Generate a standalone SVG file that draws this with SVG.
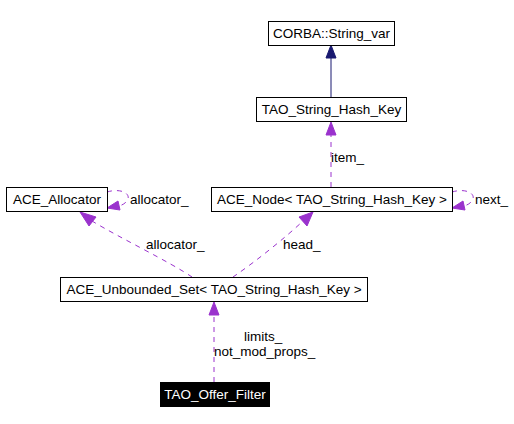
<svg xmlns="http://www.w3.org/2000/svg" width="514" height="424" viewBox="0 0 514 424">
<style>
.box{fill:#fff;stroke:#000;stroke-width:1}
.t{font-family:"Liberation Sans",Arial,sans-serif;font-size:13.5px;fill:#000}
.w{fill:#fff}
.e{fill:none;stroke:#9a32cd;stroke-width:1;stroke-dasharray:5,5}
.ah{fill:#9a32cd;stroke:#9a32cd}
</style>
<rect width="514" height="424" fill="#fff"/>
<g id="edges">
  <path d="M331,97 L331,57" fill="none" stroke="#191970"/>
  <polygon points="331,45 326,58 336,58" fill="#191970" stroke="#191970"/>
  <path class="e" d="M331,187 L331,135"/>
  <polygon class="ah" points="331,122 326,135 336,135"/>
  <path class="e" d="M107,192 C120,188 130,193 128,199 C126,204 120,206 118,206"/>
  <polygon class="ah" points="107,208 118,201 120,210"/>
  <path class="e" d="M452,192 C465,188 475,193 473,199 C471,204 465,206 463,206"/>
  <polygon class="ah" points="452,208 463,201 465,210"/>
  <path class="e" d="M192,277 C170,262 120,238 92,221"/>
  <polygon class="ah" points="80,212 89,226 96,217"/>
  <path class="e" d="M233,277 C255,262 285,238 303,221"/>
  <polygon class="ah" points="313,212 299,217 307,226"/>
  <path class="e" d="M214,382 L214,315"/>
  <polygon class="ah" points="214,302 209,315 219,315"/>
  <text class="t" x="331" y="162">item_</text>
  <text class="t" x="130" y="204">allocator_</text>
  <text class="t" x="475" y="204">next_</text>
  <text class="t" x="146" y="249">allocator_</text>
  <text class="t" x="283" y="249">head_</text>
  <text class="t" x="244" y="341">limits_</text>
  <text class="t" x="214" y="356">not_mod_props_</text>
</g>
<g id="corba">
  <rect class="box" x="268.5" y="21.5" width="126" height="24"/>
  <text class="t" x="331.5" y="38" text-anchor="middle">CORBA::String_var</text>
</g>
<g id="hashkey">
  <rect class="box" x="256.5" y="97.5" width="150" height="24"/>
  <text class="t" x="331.5" y="114" text-anchor="middle">TAO_String_Hash_Key</text>
</g>
<g id="allocator">
  <rect class="box" x="6.5" y="187.5" width="101" height="24"/>
  <text class="t" x="57" y="204" text-anchor="middle">ACE_Allocator</text>
</g>
<g id="node">
  <rect class="box" x="211.5" y="187.5" width="241" height="24"/>
  <text class="t" x="332" y="204" text-anchor="middle">ACE_Node&lt; TAO_String_Hash_Key &gt;</text>
</g>
<g id="set">
  <rect class="box" x="60.5" y="277.5" width="307" height="24"/>
  <text class="t" x="214" y="294" text-anchor="middle">ACE_Unbounded_Set&lt; TAO_String_Hash_Key &gt;</text>
</g>
<g id="filter">
  <rect x="160" y="382" width="110" height="25" fill="#000"/>
  <text class="t w" x="215" y="399" text-anchor="middle">TAO_Offer_Filter</text>
</g>
</svg>
